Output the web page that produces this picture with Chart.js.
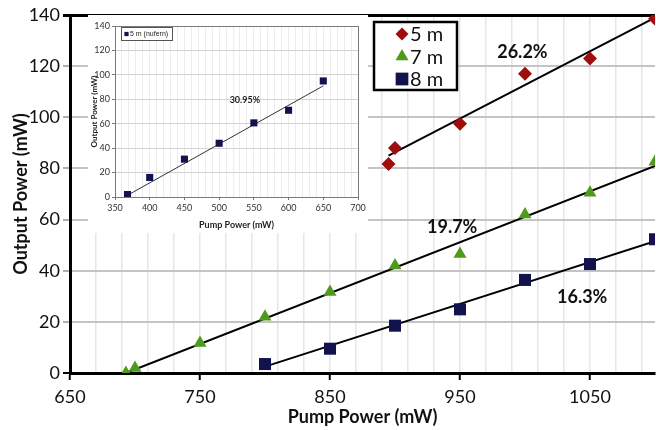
<!DOCTYPE html>
<html>
<head>
<meta charset="utf-8">
<script src="https://cdn.jsdelivr.net/npm/chart.js@4.4.0/dist/chart.umd.min.js"></script>
<style>
  html, body { margin: 0; padding: 0; background: #fff; }
  #wrap { position: relative; width: 656px; height: 430px; overflow: hidden; }
  #main { position: absolute; left: 0; top: 0; }
  #inset { position: absolute; left: 88px; top: 15px; background: #fff; }
</style>
</head>
<body>
<div id="wrap">
  <canvas id="main" width="656" height="430"></canvas>
  <canvas id="inset" width="280" height="218"></canvas>
</div>
<script>
// main chart data
const pump5 = [895, 900, 950, 1000, 1050, 1100];
const out5 = [81.7, 88, 97.5, 117, 123, 138.5];
const pump7 = [693, 700, 750, 800, 850, 900, 950, 1000, 1050, 1100];
const out7 = [0, 2, 11.7, 22, 31.7, 42, 46.5, 62, 70.5, 82.6];
const pump8 = [800, 850, 900, 950, 1000, 1050, 1100];
const out8 = [3.5, 9.5, 18.5, 24.9, 36.4, 42.6, 52.3];

// linear fits
const fitPump5 = [895, 1100];
const fitOut5 = [85, 139];
const fitPump7 = [693, 1100];
const fitOut7 = [0, 81];
const fitPump8 = [800, 1100];
const fitOut8 = [2.5, 51.5];

const slopeText = ['26.2%', '19.7%', '16.3%'];
const slopeAtPump = [998, 944, 1044];
const slopeAtOut = [125.3, 57.2, 29.8];

const xTickLabels = [650, 750, 850, 950, 1050];
const seriesNames = ['5 m', '7 m', '8 m'];

// inset data
const insetPump = [368, 400, 450, 500, 550, 600, 650];
const insetOut = [2, 16, 31, 44, 60.7, 71, 95];
const insetFitPump = [368, 650];
const insetFitOut = [1.4, 91];
const insetXTickLabels = [350, 400, 450, 500, 550, 600, 650, 700];

const RED = '#a00d0d';
const GREEN = '#4e9a1c';
const NAVY = '#12124f';
const FONT = 'Lato, "Open Sans", sans-serif';

const pts = (xs, ys) => xs.map((x, i) => ({ x: x, y: ys[i] }));

// no extra label overhang padding, the plot edges are pinned by layout padding
const noPad = (s) => { s.paddingLeft = 0; s.paddingRight = 0; s.paddingTop = 0; s.paddingBottom = 0; };

function marker(ctx, style, x, y, r, color) {
  ctx.fillStyle = color;
  ctx.beginPath();
  if (style === 'rectRot') {
    ctx.moveTo(x, y - r); ctx.lineTo(x + r, y); ctx.lineTo(x, y + r); ctx.lineTo(x - r, y);
  } else if (style === 'triangle') {
    ctx.moveTo(x, y - r); ctx.lineTo(x + r * 0.866, y + r / 2); ctx.lineTo(x - r * 0.866, y + r / 2);
  } else {
    const s = r * Math.SQRT1_2;
    ctx.rect(x - s, y - s, 2 * s, 2 * s);
  }
  ctx.closePath();
  ctx.fill();
}

// legend box and slope labels on the main chart
const mainExtras = {
  id: 'mainExtras',
  afterDatasetsDraw(chart) {
    const ctx = chart.ctx;
    const xs = chart.scales.x, ys = chart.scales.y;
    ctx.save();
    ctx.fillStyle = '#111';
    ctx.font = 'bold 18px ' + FONT;
    ctx.textAlign = 'center';
    ctx.textBaseline = 'middle';
    slopeText.forEach((t, i) => {
      ctx.fillText(t, xs.getPixelForValue(slopeAtPump[i]), ys.getPixelForValue(slopeAtOut[i]));
    });

    ctx.fillStyle = '#fff';
    ctx.fillRect(374, 22, 83, 68);
    ctx.lineWidth = 2.5;
    ctx.strokeStyle = '#000';
    ctx.strokeRect(374, 22, 83, 68);
    const styles = ['rectRot', 'triangle', 'rect'];
    const cols = [RED, GREEN, NAVY];
    const rad = [6.5, 7.5, 9];
    ctx.font = '20px ' + FONT;
    ctx.textAlign = 'left';
    seriesNames.forEach((n, i) => {
      const y = 34 + i * 22.5;
      marker(ctx, styles[i], 402, y, rad[i], cols[i]);
      ctx.fillStyle = '#111';
      ctx.fillText(n, 410, y + 1);
    });
    ctx.restore();
  }
};

new Chart(document.getElementById('main'), {
  type: 'scatter',
  data: {
    datasets: [
      { label: '5 m', data: pts(pump5, out5), pointStyle: 'rectRot', pointRadius: 7, backgroundColor: RED, borderColor: RED, borderWidth: 0 },
      { label: '7 m', data: pts(pump7, out7), pointStyle: 'triangle', pointRadius: 7.5, backgroundColor: GREEN, borderColor: GREEN, borderWidth: 0 },
      { label: '8 m', data: pts(pump8, out8), pointStyle: 'rect', pointRadius: 8.5, backgroundColor: NAVY, borderColor: NAVY, borderWidth: 0 },
      { label: 'fit5', data: pts(fitPump5, fitOut5), showLine: true, pointRadius: 0, borderColor: '#000', borderWidth: 2 },
      { label: 'fit7', data: pts(fitPump7, fitOut7), showLine: true, pointRadius: 0, borderColor: '#000', borderWidth: 2 },
      { label: 'fit8', data: pts(fitPump8, fitOut8), showLine: true, pointRadius: 0, borderColor: '#000', borderWidth: 2 }
    ]
  },
  options: {
    responsive: false,
    animation: false,
    layout: { autoPadding: false, padding: { top: 15, right: 1, left: 0, bottom: 0 } },
    plugins: { legend: { display: false }, tooltip: { enabled: false } },
    scales: {
      x: {
        type: 'linear', min: 650, max: 1100,
        afterFit: (s) => { s.height = 57; noPad(s); },
        ticks: {
          stepSize: 10, maxTicksLimit: 100, autoSkip: false, maxRotation: 0, padding: 6,
          color: '#111', font: { family: FONT, size: 18 },
          callback: (v) => xTickLabels.includes(v) ? String(v) : ''
        },
        grid: {
          color: (c) => ((c.tick.value - 650) % 20 === 0) ? '#e6e6e6' : 'rgba(0,0,0,0)',
          lineWidth: 1.5,
          tickLength: 7,
          tickColor: (c) => xTickLabels.includes(c.tick.value) ? '#000' : 'rgba(0,0,0,0)',
          tickWidth: 2
        },
        border: { color: '#000', width: 3 },
        title: { display: true, text: 'Pump Power (mW)', color: '#111', font: { family: FONT, size: 18, weight: 'bold' }, padding: { top: 0, bottom: 2 } }
      },
      y: {
        min: 0, max: 140,
        afterFit: (s) => { s.width = 70; noPad(s); },
        ticks: { stepSize: 20, padding: 3, color: '#111', font: { family: FONT, size: 18 } },
        grid: {
          color: (c) => c.tick.value === 140 ? '#000' : '#c4c4c4',
          lineWidth: (c) => c.tick.value === 140 ? 3 : 2,
          tickLength: 7,
          tickColor: (c) => (c.tick.value === 140 || c.tick.value === 0) ? '#000' : '#b0b0b0'
        },
        border: { color: '#000', width: 3 },
        title: { display: true, text: 'Output Power (mW)', color: '#111', font: { family: FONT, size: 18, weight: 'bold' }, padding: { top: 10, bottom: 0 } }
      }
    }
  },
  plugins: [mainExtras]
});

// inset: plot frame, legend and slope label
const insetExtras = {
  id: 'insetExtras',
  beforeDatasetsDraw(chart) {
    const a = chart.chartArea, ctx = chart.ctx;
    ctx.save();
    ctx.strokeStyle = '#7a7a7a';
    ctx.lineWidth = 1;
    ctx.strokeRect(Math.round(a.left) + 0.5, Math.round(a.top) + 0.5, Math.round(a.right - a.left), Math.round(a.bottom - a.top));
    ctx.restore();
  },
  afterDatasetsDraw(chart) {
    const ctx = chart.ctx;
    const xs = chart.scales.x, ys = chart.scales.y;
    ctx.save();
    ctx.fillStyle = '#222';
    ctx.font = 'bold 9px ' + FONT;
    ctx.textAlign = 'center';
    ctx.textBaseline = 'middle';
    ctx.fillText('30.95%', xs.getPixelForValue(537), ys.getPixelForValue(79));

    ctx.fillStyle = '#fff';
    ctx.fillRect(33.5, 12.5, 51, 13);
    ctx.strokeStyle = '#555';
    ctx.lineWidth = 1;
    ctx.strokeRect(33.5, 12.5, 51, 13);
    marker(ctx, 'rect', 38.5, 19, 3, NAVY);
    ctx.fillStyle = '#222';
    ctx.font = '7px "Liberation Sans Narrow", "Liberation Sans", sans-serif';
    ctx.textAlign = 'left';
    ctx.fillText('5 m (nufern)', 42, 19.5);
    ctx.restore();
  }
};

new Chart(document.getElementById('inset'), {
  type: 'scatter',
  data: {
    datasets: [
      { label: '5 m (nufern)', data: pts(insetPump, insetOut), pointStyle: 'rect', pointRadius: 5, backgroundColor: NAVY, borderColor: NAVY, borderWidth: 0 },
      { label: 'fit', data: pts(insetFitPump, insetFitOut), showLine: true, pointRadius: 0, borderColor: '#333', borderWidth: 1 }
    ]
  },
  options: {
    responsive: false,
    animation: false,
    layout: { autoPadding: false, padding: { top: 11, right: 10, left: 0, bottom: 0 } },
    plugins: { legend: { display: false }, tooltip: { enabled: false } },
    scales: {
      x: {
        type: 'linear', min: 350, max: 700,
        afterFit: (s) => { s.height = 36; noPad(s); },
        ticks: {
          stepSize: 10, maxTicksLimit: 100, autoSkip: false, maxRotation: 0, padding: 3,
          color: '#333', font: { family: FONT, size: 9 },
          callback: (v) => insetXTickLabels.includes(v) ? String(v) : ''
        },
        grid: {
          color: '#ececec', lineWidth: 1, tickLength: 3,
          tickColor: (c) => insetXTickLabels.includes(c.tick.value) ? '#777' : 'rgba(0,0,0,0)'
        },
        border: { display: false },
        title: { display: true, text: 'Pump Power (mW)', color: '#222', font: { family: FONT, size: 9, weight: 'bold' }, padding: { top: 0, bottom: 3 } }
      },
      y: {
        min: 0, max: 140,
        afterFit: (s) => { s.width = 27; noPad(s); },
        ticks: { stepSize: 20, padding: 2, color: '#333', font: { family: FONT, size: 9 } },
        grid: { color: '#d2d2d2', lineWidth: 1, tickLength: 3, tickColor: '#777' },
        border: { display: false },
        title: { display: true, text: 'Output Power (mW)', color: '#222', font: { family: FONT, size: 8, weight: 'bold' }, padding: { top: 2, bottom: 0 } }
      }
    }
  },
  plugins: [insetExtras]
});
</script>
</body>
</html>
